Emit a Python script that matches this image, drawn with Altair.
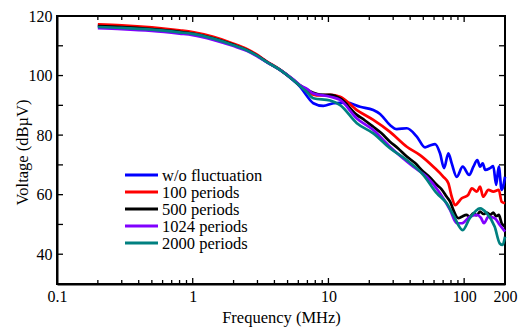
import altair as alt
import pandas as pd

series_names = ["w/o fluctuation", "100 periods", "500 periods", "1024 periods", "2000 periods"]
series_colors = ["#0000ff", "#ff0000", "#000000", "#8000ff", "#008080"]

# frequency (MHz) / voltage (dBuV) per series
blue_f = [0.2, 0.3, 0.5, 0.8, 1.0, 1.42, 2.0, 2.5, 3.0, 3.5, 4.4, 5.5, 6.2, 6.9, 7.74, 9.17, 10.9, 13.6, 17.1, 21.4, 24, 28.4, 31.9, 37.8, 44.8, 51.5, 56, 61.1, 66.4, 71.1, 76.5, 81, 88.2, 97.6, 109, 117, 125, 131, 137, 143, 155, 164, 172, 180, 189, 200]
blue_v = [116.8, 116.5, 115.8, 114.9, 114.3, 112.7, 110.4, 108.7, 106.7, 104.7, 101.9, 98.4, 96.2, 93.3, 90.7, 89.8, 90.7, 90.9, 89.5, 88.4, 87.1, 83.4, 82.0, 82.3, 79.5, 75.9, 76.5, 77.0, 73.9, 68.9, 73.9, 70.5, 66.0, 69.4, 66.6, 69.4, 71.6, 69.4, 70.5, 68.3, 68.9, 69.6, 63.3, 69.4, 61.6, 66.0]

red_f = [0.2, 0.3, 0.5, 0.8, 1.0, 1.42, 2.0, 2.5, 3.0, 3.5, 4.4, 5.5, 6.2, 6.9, 7.74, 8.7, 10.3, 12.2, 16.2, 21.4, 28.4, 37.8, 47.3, 59.3, 70.3, 76.5, 81, 85.7, 96, 107, 114, 124, 131, 138, 151, 164, 180, 189, 200]
red_v = [117.2, 116.9, 116.2, 115.2, 114.6, 113.0, 110.7, 108.9, 106.9, 104.8, 102.0, 98.6, 96.6, 95.0, 93.6, 93.3, 93.5, 92.9, 88.4, 85.1, 81.1, 76.1, 73.3, 69.4, 66.0, 63.8, 59.3, 56.5, 58.8, 59.9, 62.1, 61.0, 62.7, 59.3, 61.6, 61.0, 61.6, 57.6, 57.1]

black_f = [0.2, 0.3, 0.5, 0.8, 1.0, 1.42, 2.0, 2.5, 3.0, 3.5, 4.4, 5.5, 6.2, 6.9, 7.74, 8.7, 10.3, 12.2, 16.2, 18.5, 21.4, 24.5, 28.4, 32.5, 37.8, 43.5, 50.1, 56, 62.8, 68, 74.4, 79, 83.2, 90.6, 96, 104, 110, 117, 124, 131, 139, 147, 156, 164, 172, 180, 189, 200]
black_v = [116.6, 116.3, 115.6, 114.7, 114.1, 112.5, 110.3, 108.6, 106.6, 104.6, 101.9, 98.6, 96.6, 95.3, 94.2, 93.6, 93.5, 92.3, 86.8, 85.0, 82.8, 80.7, 77.8, 75.6, 72.8, 70.6, 67.7, 65.8, 63.3, 61.9, 59.3, 57.6, 54.9, 52.1, 52.6, 53.2, 52.6, 53.7, 53.1, 54.3, 53.5, 54.0, 53.2, 54.0, 52.8, 53.2, 50.4, 49.2]

purple_f = [0.2, 0.3, 0.5, 0.8, 1.0, 1.42, 2.0, 2.5, 3.0, 3.5, 4.4, 5.5, 6.2, 6.9, 7.74, 10.3, 12.2, 16.2, 21.4, 28.4, 42.2, 53, 66.4, 78.7, 88.2, 96, 110, 124, 133, 140, 151, 168, 183, 200]
purple_v = [115.9, 115.6, 115.0, 114.1, 113.6, 112.0, 109.9, 108.3, 106.4, 104.5, 101.9, 98.7, 96.7, 95.6, 94.0, 92.9, 91.8, 85.6, 81.7, 76.1, 69.4, 66.0, 60.5, 54.9, 50.4, 50.4, 52.6, 53.2, 52.2, 50.4, 52.6, 52.1, 49.8, 47.6]

teal_f = [0.2, 0.3, 0.5, 0.8, 1.0, 1.42, 2.0, 2.5, 3.0, 3.5, 4.4, 5.5, 6.2, 6.9, 7.74, 10.3, 12.2, 16.2, 21.4, 28.4, 37.8, 50.1, 62.8, 74.4, 83.2, 97.6, 110, 131, 147, 168, 183, 192, 200]
teal_v = [116.3, 116.0, 115.4, 114.5, 114.0, 112.4, 110.2, 108.5, 106.6, 104.6, 101.9, 98.5, 96.4, 94.6, 92.4, 91.6, 90.1, 84.0, 80.6, 75.6, 71.6, 66.6, 60.5, 57.1, 53.2, 48.1, 52.1, 55.4, 53.7, 49.2, 43.6, 43.1, 45.9]

x_label_values = [0.1, 1, 10, 100, 200]
x_major_ticks = [0.1, 1, 10, 100]
x_minor_ticks = [0.2, 0.3, 0.4, 0.5, 0.6, 0.7, 0.8, 0.9, 2, 3, 4, 5, 6, 7, 8, 9, 20, 30, 40, 50, 60, 70, 80, 90]
y_label_values = [40, 60, 80, 100, 120]
y_major_ticks = [40, 60, 80, 100]
y_minor_ticks = [50, 70, 90, 110]

W, H = 448, 268
FONT = "Liberation Serif"

rows = []
for name, fs, vs in [
    (series_names[0], blue_f, blue_v),
    (series_names[1], red_f, red_v),
    (series_names[2], black_f, black_v),
    (series_names[3], purple_f, purple_v),
    (series_names[4], teal_f, teal_v),
]:
    for f, v in zip(fs, vs):
        rows.append({"series": name, "freq": f, "volt": v})
df = pd.DataFrame(rows)

xscale = alt.Scale(type="log", domain=[0.1, 200], nice=False)
yscale = alt.Scale(domain=[30, 120], nice=False, zero=False)
cscale = alt.Scale(domain=series_names, range=series_colors)

axis_style = dict(ticks=False, grid=False, domainColor="black", domainWidth=2,
                  labelFont=FONT, titleFont=FONT, labelFontSize=16, titleFontSize=16.5,
                  labelColor="black", titleColor="black", titleFontWeight="normal")

lines = alt.Chart(df).mark_line(strokeWidth=2.7, interpolate="monotone").encode(
    x=alt.X("freq:Q", scale=xscale,
            axis=alt.Axis(title="Frequency (MHz)", values=x_label_values, format="~g",
                          labelFlush=False, labelPadding=4, titleBaseline="middle",
                          titleX=224, titleY=33, **axis_style)),
    y=alt.Y("volt:Q", scale=yscale,
            axis=alt.Axis(title="Voltage (dB\u00b5V)", values=y_label_values,
                          labelPadding=5, titleBaseline="middle", titleX=-35, titleY=136,
                          **axis_style)),
    color=alt.Color("series:N", scale=cscale, legend=None),
    detail="series:N",
)

# manual legend inside the plot
leg_top, leg_step = 159, 17
layers_leg = []
for i, name in enumerate(series_names):
    ly = leg_top + i * leg_step
    layers_leg.append(alt.Chart(pd.DataFrame({"series": [name]})).mark_rule(strokeWidth=3).encode(
        x=alt.value(68), x2=alt.value(101), y=alt.value(ly),
        color=alt.Color("series:N", scale=cscale, legend=None)))
    layers_leg.append(alt.Chart(pd.DataFrame({"t": [name]})).mark_text(
        font=FONT, fontSize=16.5, align="left", baseline="middle", color="black").encode(
        x=alt.value(105), y=alt.value(ly + 1), text="t:N"))

xmaj = pd.DataFrame({"t": x_major_ticks})
xmin = pd.DataFrame({"t": x_minor_ticks})
ymaj = pd.DataFrame({"t": y_major_ticks})
ymin = pd.DataFrame({"t": y_minor_ticks})

def xticks(d, length):
    b = alt.Chart(d).mark_rule(color="black", strokeWidth=1.3).encode(
        x=alt.X("t:Q", scale=xscale), y=alt.value(H), y2=alt.value(H - length))
    t = alt.Chart(d).mark_rule(color="black", strokeWidth=1.3).encode(
        x=alt.X("t:Q", scale=xscale), y=alt.value(0), y2=alt.value(length))
    return [b, t]

def yticks(d, length):
    l = alt.Chart(d).mark_rule(color="black", strokeWidth=1.3).encode(
        y=alt.Y("t:Q", scale=yscale), x=alt.value(0), x2=alt.value(length))
    r = alt.Chart(d).mark_rule(color="black", strokeWidth=1.3).encode(
        y=alt.Y("t:Q", scale=yscale), x=alt.value(W), x2=alt.value(W - length))
    return [l, r]

layers = xticks(xmaj, 6) + xticks(xmin, 4) + yticks(ymaj, 6) + yticks(ymin, 6) + [lines] + layers_leg

chart = alt.layer(*layers).properties(
    width=W, height=H,
    autosize=alt.AutoSizeParams(type="none"),
    padding={"left": 49, "top": 8, "right": 14, "bottom": 44},
).configure_view(stroke="black", strokeWidth=2)

chart.save("out.html", embed_options={"renderer": "svg", "actions": False})
